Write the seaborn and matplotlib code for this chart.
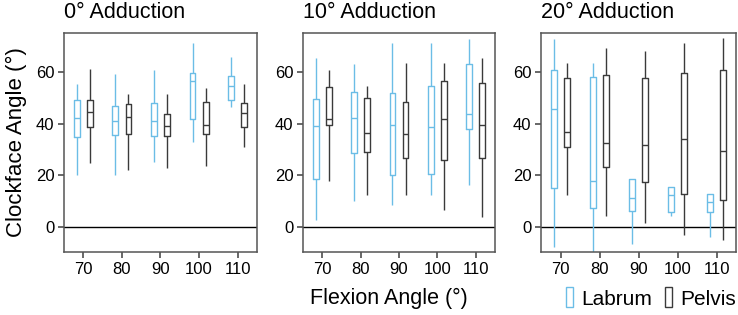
import pandas as pd
import matplotlib.pyplot as plt
import seaborn as sns
from matplotlib.patches import Patch

# --- Data (whisker low, Q1, median, Q3, whisker high) ---
flexion = [70, 80, 90, 100, 110]
panel_titles = ["0° Adduction", "10° Adduction", "20° Adduction"]
groups = ["Labrum", "Pelvis"]

labrum_0 = [[20.0, 34.8, 42.0, 49.0, 55.4],
            [20.0, 35.4, 40.8, 46.7, 59.0],
            [25.3, 35.1, 41.0, 47.9, 60.6],
            [32.8, 41.9, 56.3, 59.4, 71.1],
            [46.3, 49.3, 54.6, 58.5, 65.9]]
pelvis_0 = [[24.8, 38.7, 44.5, 49.0, 61.0],
            [22.2, 36.0, 42.6, 47.6, 51.5],
            [22.7, 35.1, 39.2, 43.7, 51.5],
            [23.5, 36.1, 39.5, 48.4, 53.8],
            [31.1, 38.7, 44.0, 48.0, 55.4]]

labrum_10 = [[2.8, 18.6, 39.0, 49.4, 65.4],
             [9.9, 28.5, 42.0, 52.3, 63.2],
             [8.6, 20.0, 39.5, 52.0, 71.2],
             [12.5, 20.6, 38.8, 54.5, 71.2],
             [16.1, 37.9, 43.6, 63.1, 72.8]]
pelvis_10 = [[17.9, 39.5, 41.8, 54.0, 60.8],
             [12.3, 29.0, 36.4, 50.0, 54.7],
             [12.3, 26.5, 36.1, 48.4, 63.6],
             [6.5, 26.0, 41.7, 56.5, 63.6],
             [3.9, 26.5, 39.6, 55.5, 65.4]]

labrum_20 = [[-7.7, 15.1, 45.5, 60.6, 72.8],
             [-12.0, 7.2, 17.9, 58.0, 63.5],
             [-6.5, 6.3, 11.0, 18.5, 18.5],
             [4.4, 5.9, 12.3, 15.4, 15.4],
             [-4.0, 5.9, 9.5, 12.8, 12.8]]
pelvis_20 = [[12.3, 31.1, 36.9, 57.5, 63.5],
             [4.1, 23.0, 32.4, 58.7, 69.3],
             [1.5, 17.2, 31.7, 57.7, 68.1],
             [-3.0, 12.8, 34.0, 59.4, 71.0],
             [-5.0, 10.3, 29.5, 60.6, 73.2]]

panel_data = [(labrum_0, pelvis_0), (labrum_10, pelvis_10), (labrum_20, pelvis_20)]

colors = {"Labrum": "#6bbde6", "Pelvis": "#3a3a3a"}

# --- Style ---
sns.set_theme(style="ticks")
plt.rcParams["font.family"] = ["Liberation Sans", "DejaVu Sans"]
plt.rcParams.update({
    "text.color": "black",
    "axes.labelcolor": "black",
    "axes.edgecolor": "#555555",
    "axes.linewidth": 1.1,
    "xtick.color": "#555555",
    "ytick.color": "#555555",
    "xtick.labelcolor": "black",
    "ytick.labelcolor": "black",
    "xtick.labelsize": 12,
    "ytick.labelsize": 12,
    "xtick.major.size": 4,
    "ytick.major.size": 4,
})

fig = plt.figure(figsize=(7.38, 3.15), dpi=100)
lefts = [64 / 738, 303 / 738, 541 / 738]
widths = [193 / 738, 192 / 738, 195 / 738]

for i, (title, (lab, pel)) in enumerate(zip(panel_titles, panel_data)):
    rows = []
    for f, ls, ps in zip(flexion, lab, pel):
        for v in ls:
            rows.append({"flexion": f, "angle": v, "group": "Labrum"})
        for v in ps:
            rows.append({"flexion": f, "angle": v, "group": "Pelvis"})
    df = pd.DataFrame(rows)

    ax = fig.add_axes([lefts[i], 0.2, widths[i], 0.695])
    ax.axhline(0, color="black", lw=1, zorder=0)
    sns.boxplot(data=df, x="flexion", y="angle", hue="group", hue_order=groups,
                native_scale=True, fill=False, whis=(0, 100), width=0.68, gap=0.55,
                palette=colors, linewidth=1, showcaps=False, legend=False, ax=ax)
    ax.set_xlim(65, 115)
    ax.set_ylim(-9.7, 75)
    ax.set_xticks(flexion)
    ax.set_yticks([0, 20, 40, 60])
    ax.tick_params(pad=3)
    ax.set_xlabel("")
    ax.set_ylabel("Clockface Angle (°)" if i == 0 else "", fontsize=16, labelpad=6)
    ax.set_title(title, loc="left", fontsize=15.5, pad=11)
    for side in ["top", "right"]:
        ax.spines[side].set_visible(True)

fig.text(310 / 738, 17 / 315, "Flexion Angle (°)", fontsize=15.5, ha="left", va="center")

handles = [Patch(facecolor="white", edgecolor=colors[g], linewidth=1) for g in groups]
fig.legend(handles, groups, loc="center right", bbox_to_anchor=(1.012, 17 / 315),
           ncol=2, frameon=False, fontsize=15, handlelength=0.35, handleheight=1.1,
           handletextpad=0.4, columnspacing=0.6, borderaxespad=0.1)

plt.savefig("out.png", dpi=100)
